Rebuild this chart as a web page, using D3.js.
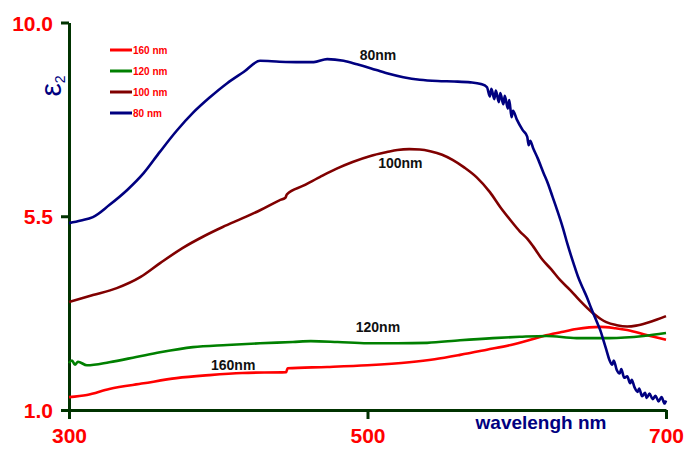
<!DOCTYPE html>
<html>
<head>
<meta charset="utf-8">
<script src="https://cdn.jsdelivr.net/npm/d3@7"></script>
<style>
  html, body { margin: 0; padding: 0; background: #fff; }
  svg { display: block; font-family: Arial, "Liberation Sans", sans-serif; }
</style>
</head>
<body>
<svg id="chart" width="686" height="450"></svg>
<script>
// ---- data (wavelength nm, epsilon2) ----
const xTicks = [300, 500, 700];
const yTicks = [1.0, 5.5, 10.0];

const seriesNames = ["160 nm", "120 nm", "100 nm", "80 nm"];
const seriesColors = ["#ff0000", "#008000", "#800000", "#000080"];

const wl160 = [300,312,327,350,372,394,416,445.5,446.5,473,500,528,545,562,580,596,608,618,630,640,656,666,674,687,700];
const e160  = [1.30,1.35,1.49,1.62,1.74,1.81,1.86,1.88,1.97,2.00,2.04,2.11,2.18,2.28,2.40,2.51,2.62,2.72,2.81,2.88,2.93,2.90,2.86,2.74,2.63];

const wl120 = [300,302,304,306,312,327,345,361,383,406,428,450,462,480,500,520,540,562,584,602,620,640,662,685,700];
const e120  = [2.09,2.15,2.05,2.12,2.04,2.11,2.23,2.34,2.46,2.51,2.55,2.58,2.60,2.58,2.55,2.55,2.56,2.62,2.67,2.70,2.72,2.67,2.67,2.72,2.79];

const wl100 = [300,316,332,348,361,376,390,403,416,428,441,445,446,457,468,479,490,502,513,520,528,535,542,550,557,565,573,582,589,596,602,607,611,617,623,629,636,642,651,656,660,667,674,680,687,694,700];
const e100  = [3.51,3.67,3.83,4.09,4.41,4.76,5.03,5.25,5.45,5.64,5.87,5.93,6.01,6.21,6.41,6.60,6.76,6.90,6.99,7.04,7.06,7.05,7.01,6.93,6.81,6.63,6.41,6.06,5.71,5.40,5.15,4.98,4.80,4.50,4.27,4.02,3.78,3.55,3.25,3.12,3.04,2.97,2.94,2.96,3.02,3.10,3.18];

const wl80 = [300,308,316,327,339,350,361,372,383,394,406,417,428,441,455,464,473,484,493,502,513,524,535,547,558,569,576,580,582,583,585,586,588,589,591,592,594,595,596.5,597.5,600,604,607,608,609,611,614,618,621,624,627,631,634,638,641,644,647,650,654,656,658,660,662,664,665,667,669,670,672,674,676,677,679,681,682,684,686,687,689,691,693,695,697,699,700];
const e80  = [5.34,5.40,5.48,5.76,6.11,6.50,7.00,7.48,7.90,8.25,8.59,8.85,9.11,9.09,9.08,9.08,9.15,9.11,9.03,8.94,8.82,8.73,8.67,8.64,8.63,8.61,8.57,8.50,8.28,8.46,8.22,8.42,8.15,8.36,8.10,8.30,8.00,8.20,7.80,7.95,7.75,7.50,7.35,7.15,7.25,7.08,6.85,6.50,6.25,5.95,5.65,5.22,4.85,4.41,4.10,3.85,3.62,3.35,3.02,2.85,2.63,2.40,2.17,2.05,2.15,1.93,1.85,1.95,1.75,1.78,1.62,1.70,1.52,1.42,1.50,1.32,1.40,1.28,1.38,1.25,1.33,1.20,1.30,1.15,1.22];

const labelTexts = ["160nm", "120nm", "100nm", "80nm"];
const labelWl = [410, 507, 522, 507];     // label anchor wavelength
const labelEps = [2.04, 2.93, 6.74, 9.25]; // label anchor epsilon2

// ---- drawing ----
const svg = d3.select("#chart");
const x = d3.scaleLinear().domain([300, 700]).range([69, 666]);
const y = d3.scaleLinear().domain([1, 10]).range([410, 22.5]);
const axisColor = "#003300";

// y axis
const yAxis = svg.append("g").attr("transform", "translate(69,0)")
  .call(d3.axisLeft(y).tickValues(yTicks).tickSize(8).tickSizeOuter(0).tickFormat(d3.format(".1f")));
yAxis.select(".domain").attr("stroke", axisColor).attr("stroke-width", 3);
yAxis.selectAll(".tick line").attr("stroke", axisColor).attr("stroke-width", 3);
yAxis.selectAll(".tick text").attr("fill", "#ff0000").attr("font-size", 21).attr("font-weight", "bold")
  .attr("font-family", "Arial, 'Liberation Sans', sans-serif").attr("x", -16).attr("dy", "0.36em");

// x axis
const xAxis = svg.append("g").attr("transform", "translate(0,410)")
  .call(d3.axisBottom(x).tickValues(xTicks).tickSize(9).tickSizeOuter(0).tickFormat(d3.format("d")));
xAxis.select(".domain").attr("stroke", axisColor).attr("stroke-width", 3);
xAxis.selectAll(".tick line").attr("stroke", axisColor).attr("stroke-width", 3);
xAxis.selectAll(".tick text").attr("fill", "#ff0000").attr("font-size", 21).attr("font-weight", "bold")
  .attr("font-family", "Arial, 'Liberation Sans', sans-serif").attr("y", 18).attr("dy", "0.71em");

// axis titles
svg.append("text").attr("x", 541).attr("y", 429).attr("text-anchor", "middle")
  .attr("fill", "#000080").attr("font-size", 19).attr("font-weight", "bold").text("wavelengh nm");

const yt = svg.append("text").attr("transform", "translate(61,86) rotate(-90)")
  .attr("text-anchor", "middle").attr("fill", "#000080").attr("font-size", 30);
yt.append("tspan").text("ε");
yt.append("tspan").attr("font-size", 14).attr("dy", 4).text("2");

// series
const allX = [wl160, wl120, wl100, wl80];
const allY = [e160, e120, e100, e80];
const line = d3.line().x(d => x(d[0])).y(d => y(d[1])).curve(d3.curveMonotoneX);
allX.forEach((xs, i) => {
  const pts = xs.map((v, j) => [v, allY[i][j]]);
  svg.append("path").datum(pts).attr("d", line).attr("fill", "none")
    .attr("stroke", seriesColors[i]).attr("stroke-width", 2.6).attr("stroke-linejoin", "round");
});

// in-plot labels
labelTexts.forEach((t, i) => {
  svg.append("text").attr("x", x(labelWl[i])).attr("y", y(labelEps[i]))
    .attr("text-anchor", "middle").attr("dy", "0.35em").attr("fill", "#111")
    .attr("font-size", 14).attr("font-weight", "bold").text(t);
});

// legend
const lg = svg.append("g");
seriesNames.forEach((n, i) => {
  const yy = 50 + i * 21;
  lg.append("line").attr("x1", 110).attr("x2", 132).attr("y1", yy).attr("y2", yy)
    .attr("stroke", seriesColors[i]).attr("stroke-width", 3);
  lg.append("text").attr("x", 133).attr("y", yy).attr("dy", "0.35em").attr("fill", "#ff0000")
    .attr("font-size", 10).attr("font-weight", "bold").text(n);
});
</script>
</body>
</html>
